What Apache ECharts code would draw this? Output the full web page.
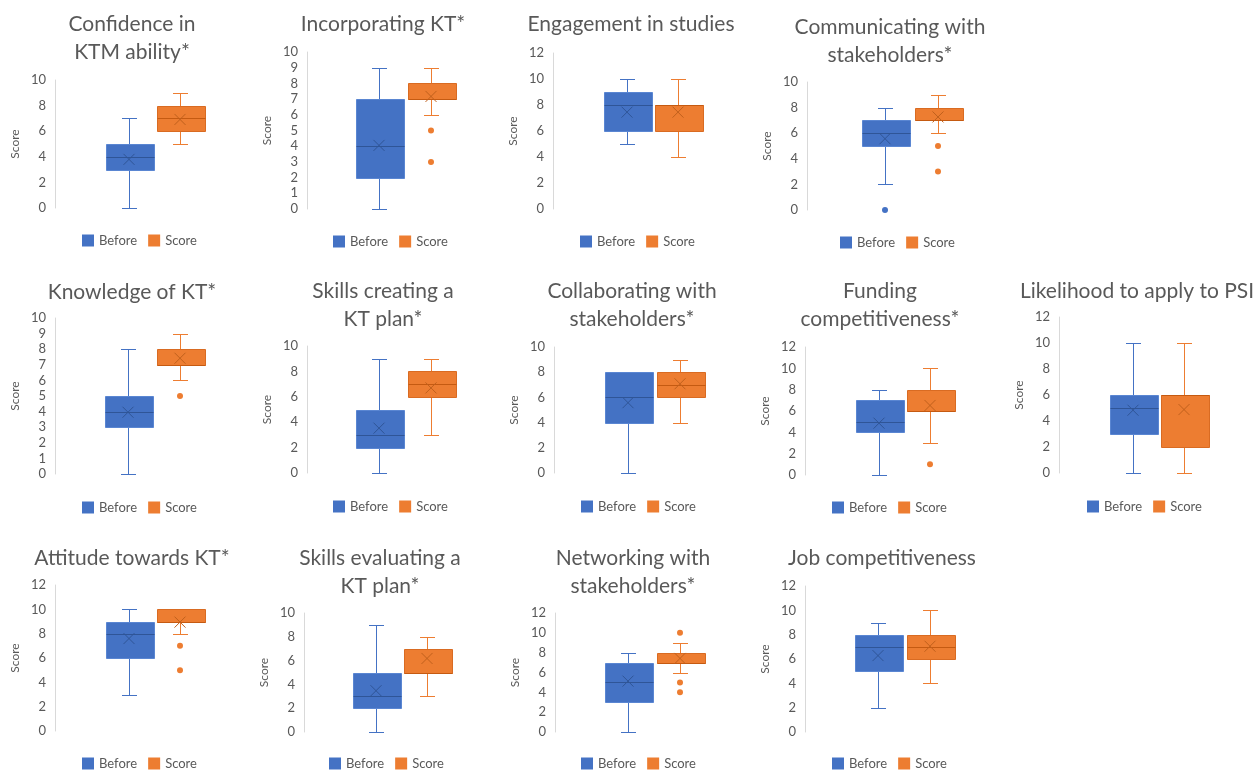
<!DOCTYPE html>
<html>
<head>
<meta charset="utf-8">
<script src="https://cdn.jsdelivr.net/npm/echarts@6/dist/echarts.min.js"></script>
<style>
html,body{margin:0;padding:0;background:#fff;}
#c{width:1257px;height:770px;}
</style>
</head>
<body>
<div id="c"></div>
<script>
// ---------- data ----------
const titles = [
  'Confidence in\nKTM ability*', 'Incorporating KT*', 'Engagement in studies', 'Communicating with\nstakeholders*',
  'Knowledge of KT*', 'Skills creating a\nKT plan*', 'Collaborating with\nstakeholders*', 'Funding\ncompetitiveness*', 'Likelihood to apply to PSI',
  'Attitude towards KT*', 'Skills evaluating a\nKT plan*', 'Networking with\nstakeholders*', 'Job competitiveness'
];
const categories = ['Before', 'Score'];
const yMax  = [10, 10, 12, 10, 10, 10, 10, 12, 12, 12, 10, 12, 12];
const yStep = [2, 1, 2, 2, 1, 2, 2, 2, 2, 2, 2, 2, 2];
// [min, Q1, median, Q3, max]
const beforeBox = [
  [0,3,4,5,7],[0,2,4,7,9],[5,6,8,9,10],[2,5,6,7,8],
  [0,3,4,5,8],[0,2,3,5,9],[0,4,6,8,8],[0,4,5,7,8],[0,3,5,6,10],
  [3,6,8,9,10],[0,2,3,5,9],[0,3,5,7,8],[2,5,7,8,9]
];
const scoreBox = [
  [5,6,7,8,9],[6,7,7,8,9],[4,6,8,8,10],[6,7,7,8,9],
  [6,7,7,8,9],[3,6,7,8,9],[4,6,7,8,9],[3,6,6,8,10],[0,2,6,6,10],
  [8,9,9,10,10],[3,5,5,7,8],[6,7,7,8,9],[4,6,7,8,10]
];
const beforeMean = [3.8, 4.05, 7.45, 5.57, 3.96, 3.53, 5.58, 4.86, 4.83, 7.6, 3.47, 5.13, 6.28];
const scoreMean  = [6.92, 7.17, 7.45, 7.27, 7.42, 6.7, 7.08, 6.52, 4.88, 8.95, 6.18, 7.42, 7.05];
const beforeOutliers = [[],[],[],[0],[],[],[],[],[],[],[],[],[]];
const scoreOutliers  = [[],[5,3],[],[5,3],[5],[],[],[1],[],[7,5],[],[10,5,4],[]];

// ---------- layout (pixels) ----------
// [beforeCenterX, scoreCenterX, axisX, yTop, yZero, titleX, titleY, legendX, legendY]
const layout = [
  [129, 180,  55,  80, 208, 132,  38,   82, 240],
  [379, 431, 307,  52, 209, 383,  24,  333, 241],
  [627, 678, 553,  53, 209, 631,  24,  580, 241],
  [885, 938, 807,  82, 210, 890,  41,  840, 242],
  [128, 180,  55, 318, 474, 132, 292,   82, 507],
  [379, 431, 307, 346, 473, 383, 305.5, 333, 506],
  [628, 680, 554, 347, 473, 632, 305.5, 581, 506],
  [879, 930, 805, 347, 475, 880, 305.5, 832, 507],
  [1133,1184,1059, 317, 473, 1137, 291, 1087, 506],
  [129, 180,  55, 585, 731, 132, 558,   82, 763],
  [376, 427, 304, 613, 732, 380, 572.5, 329, 763],
  [628, 680, 555, 613, 732, 633, 572.5, 581, 763],
  [878, 930, 805, 586, 732, 882, 558,  832, 763]
];

const FONT = 'Lato, "Open Sans", sans-serif';
const TXT = '#595959';
const COL = {
  fill:   ['#4472C4', '#ED7D31'],
  border: ['#5A86D2', '#D96B22'],
  whisk:  ['#4472C4', '#ED7D31'],
  median: ['#2F5597', '#C55A11'],
  mean:   ['#2F5597', '#C0601C']
};
const BOX_W = 48, CAP_W = 15;
const X_PATH = 'path://M0,0L10,10M10,0L0,10';

function renderBox(params, api) {
  const ci = api.value(0);
  const pts = [1,2,3,4,5].map(i => api.coord([ci, api.value(i)]));
  const cx = Math.round(pts[0][0]) + 0.5;
  const y = pts.map(p => Math.round(p[1]) + 0.5);
  const left = Math.round(cx - BOX_W / 2) + 0.5;
  const lineStyle = c => ({ stroke: c, lineWidth: 1, fill: null });
  const children = [
    { type: 'line', shape: { x1: cx, y1: y[4], x2: cx, y2: y[3] }, style: lineStyle(COL.whisk[ci]) },
    { type: 'line', shape: { x1: cx - CAP_W/2, y1: y[4], x2: cx + CAP_W/2, y2: y[4] }, style: lineStyle(COL.whisk[ci]) },
    { type: 'line', shape: { x1: cx, y1: y[1], x2: cx, y2: y[0] }, style: lineStyle(COL.whisk[ci]) },
    { type: 'line', shape: { x1: cx - CAP_W/2, y1: y[0], x2: cx + CAP_W/2, y2: y[0] }, style: lineStyle(COL.whisk[ci]) },
    { type: 'rect', shape: { x: left, y: y[3], width: BOX_W, height: y[1] - y[3] },
      style: { fill: COL.fill[ci], stroke: COL.border[ci], lineWidth: 1 } },
    { type: 'line', shape: { x1: left, y1: y[2], x2: left + BOX_W, y2: y[2] }, style: lineStyle(COL.median[ci]) }
  ];
  return { type: 'group', children };
}

const grid = [], xAxis = [], yAxis = [], series = [], legend = [], graphic = [];

titles.forEach((t, i) => {
  const [bc, sc, ax, yt, y0, tx, ty, lx, ly] = layout[i];
  const sp = sc - bc;
  const gl = bc - sp / 2;
  grid.push({ left: gl, top: yt, width: sp * 2, height: y0 - yt });
  xAxis.push({ type: 'category', gridIndex: i, data: categories, show: false, boundaryGap: true });
  yAxis.push({
    type: 'value', gridIndex: i, min: 0, max: yMax[i], interval: yStep[i],
    offset: gl - ax,
    axisLine: { show: true, lineStyle: { color: '#D9D9D9', width: 1 } },
    axisTick: { show: false },
    splitLine: { show: false },
    axisLabel: { color: TXT, fontSize: 13, fontFamily: FONT, margin: 9 },
    name: 'Score', nameLocation: 'middle', nameGap: 34,
    nameTextStyle: { color: TXT, fontSize: 12, fontFamily: FONT }
  });
  series.push({
    type: 'custom', name: 'box' + i, xAxisIndex: i, yAxisIndex: i,
    renderItem: renderBox,
    encode: { x: 0, y: [1, 2, 3, 4, 5] },
    data: [[0].concat(beforeBox[i]), [1].concat(scoreBox[i])],
    silent: true
  });
  [['Before', beforeMean[i], beforeOutliers[i], 0], ['Score', scoreMean[i], scoreOutliers[i], 1]].forEach(([nm, mean, outs, ci]) => {
    const data = [{
      value: [ci, mean], symbol: X_PATH, symbolSize: 11,
      itemStyle: { color: 'transparent', borderColor: COL.mean[ci], borderWidth: 1, opacity: 1 }
    }].concat(outs.map(v => ({
      value: [ci, v], symbol: 'circle', symbolSize: 6,
      itemStyle: { color: COL.fill[ci], borderWidth: 0, opacity: 1 }
    })));
    series.push({ type: 'scatter', name: nm, xAxisIndex: i, yAxisIndex: i, data, silent: true, z: 5,
      itemStyle: { opacity: 1 } });
  });
  legend.push({
    left: lx, top: ly - 6, padding: 0, itemWidth: 12, itemHeight: 12, itemGap: 11, icon: 'rect',
    selectedMode: false,
    textStyle: { color: TXT, fontSize: 13, fontFamily: FONT },
    itemStyle: { opacity: 1 },
    data: [
      { name: 'Before', icon: 'rect', itemStyle: { color: COL.fill[0], borderWidth: 0, opacity: 1 } },
      { name: 'Score', icon: 'rect', itemStyle: { color: COL.fill[1], borderWidth: 0, opacity: 1 } }
    ]
  });
  graphic.push({
    type: 'text', x: tx, y: ty, silent: true,
    style: { text: t, align: 'center', verticalAlign: 'middle', fill: TXT,
      font: '21px ' + FONT, lineHeight: 28 }
  });
});

const chart = echarts.init(document.getElementById('c'), null, { renderer: 'canvas' });
chart.setOption({
  backgroundColor: '#fff',
  animation: false,
  grid, xAxis, yAxis, series, legend, graphic
});
</script>
</body>
</html>
